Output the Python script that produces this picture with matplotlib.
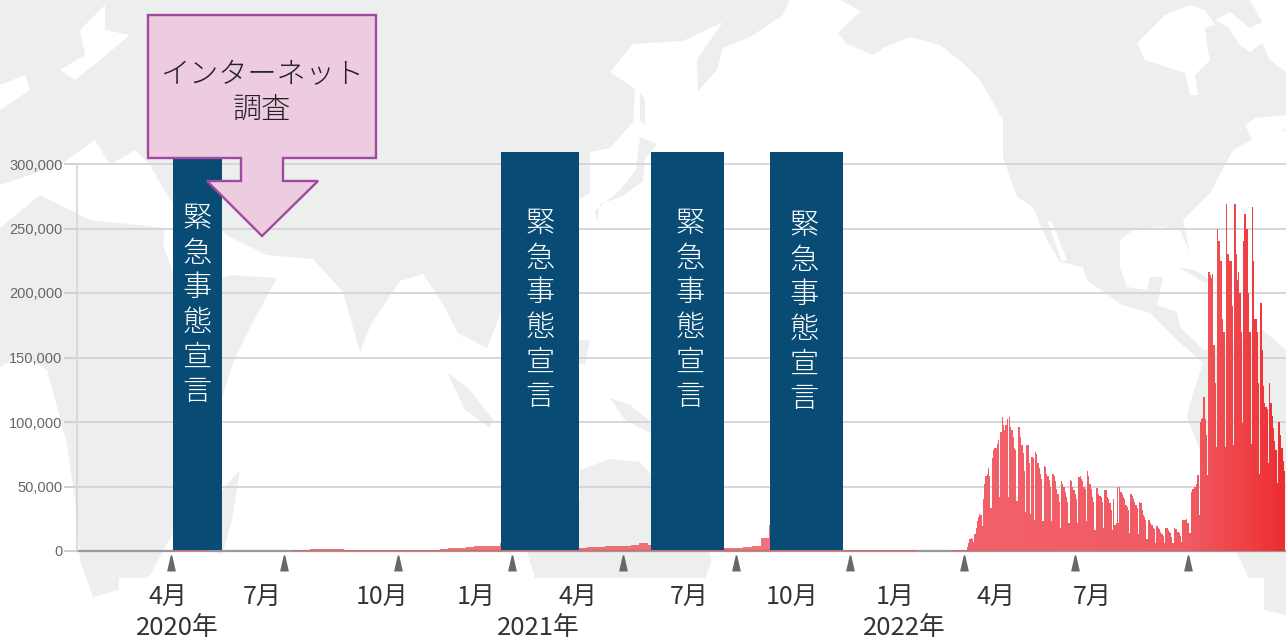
"""Daily new cases in Japan with emergency-declaration periods over a world map."""
import numpy as np
import matplotlib; matplotlib.use("Agg")
import matplotlib.pyplot as plt
from matplotlib.colors import LinearSegmentedColormap
from matplotlib.patches import Polygon, Rectangle

plt.rcParams["font.family"] = ["Noto Sans CJK JP", "DejaVu Sans"]

W, H = 1286, 641
PX_PER_DAY, PX_DAY0 = 1.2387, 171.0   # day 0 = 2020-04-01

Y_TICKS = [0, 50000, 100000, 150000, 200000, 250000, 300000]
QUARTER_DAYS = [0, 91, 183, 275, 365, 456, 548, 640, 730, 821]
EMERGENCY_START = [2, 266.4, 387.5, 483.6]
EMERGENCY_END = [41, 329.4, 446.4, 542.5]
EMERGENCY_TOP = 308500
EMERGENCY_LABEL = "緊急事態宣言"

# weekly average from day 0, thousands
LOW_WEEKS = [0.5, 0.5, 0.5, 0.4, 0.3, 0.2, 0.1, 0.1,
             0.1, 0.1, 0.1, 0.1, 0.2, 0.3, 0.5,
             0.8, 1.2, 1.4, 1.5, 1.3,
             1.0, 0.8, 0.7, 0.6, 0.6, 0.6, 0.5, 0.6, 0.7, 0.8, 1.0,
             1.5, 2.0, 2.5, 3.0, 3.5, 3.5, 4.0,
             6, 5, 3, 2, 1.5, 1.3, 1.2, 1.5,
             2, 2.5, 3, 3, 3.5, 3.5, 4, 5, 6,
             5, 4, 3, 2.5, 2, 2, 2, 2, 2.0,
             2.5, 2.5, 3, 4, 10,
             20, 22, 18, 10, 5, 3, 2, 1, 0.8,
             0.8, 0.7, 0.6, 0.5, 0.5, 0.4, 0.4, 0.4, 0.3, 0.3, 0.3, 0.3, 0.4, 0.5]

# daily values from day 642, thousands; each row is one week starting on its low day
WAVE_START = 642
WAVE_DAYS = [1, 3, 6, 9, 10, 9,
             7, 13, 18, 23, 26, 29, 28,
             19, 40, 52, 58, 60, 64, 58,
             33, 72, 78, 80, 80, 83, 86,
             42, 92, 104, 98, 94, 98, 102,
             42, 104, 96, 94, 88, 80, 78,
             39, 96, 96, 88, 82, 76, 62,
             30, 82, 82, 68, 29, 73, 72,
             24, 77, 75, 68, 64, 60, 56,
             23, 66, 65, 60, 58, 55, 50,
             23, 60, 58, 54, 48, 44, 38,
             18, 54, 52, 50, 46, 42, 38,
             22, 55, 54, 50, 47, 44, 40,
             22, 57, 58, 56, 54, 50, 48,
             23, 62, 58, 52, 48, 42, 38,
             16, 49, 49, 44, 43, 42, 38,
             18, 47, 47, 42, 40, 37, 32,
             16, 40, 20, 22, 50, 22, 50,
             46, 44, 42, 40, 36, 34, 32,
             14, 44, 43, 40, 38, 36, 33,
             13, 38, 37, 32, 28, 26, 24,
             9, 24, 24, 22, 20, 18, 17,
             6, 19, 18, 17, 15, 13, 12,
             6, 18, 18, 16, 15, 14, 11,
             6, 18, 17, 17, 15, 14, 12,
             7, 24, 24, 24, 25, 22, 14,
             14, 46, 48, 50, 50, 52, 59,
             28, 100, 102, 103, 119, 102, 90,
             59, 216, 214, 212, 215, 160, 130,
             81, 250, 240, 225, 225, 180, 170,
             81, 269, 230, 230, 225, 225, 190,
             82, 269, 230, 210, 216, 200, 170,
             99, 240, 261, 250, 250, 200, 170,
             83, 267, 225, 180, 180, 170, 130,
             60, 192, 156, 128, 115, 112, 110,
             68, 130, 115, 105, 95, 85, 78,
             53, 100, 100, 90, 80, 70, 62]

X_LABELS = ["4月", "7月", "10月", "1月", "4月", "7月", "10月", "1月", "4月", "7月"]
X_LABEL_PX = [168, 262, 382, 476, 578, 689, 792, 895, 996, 1092]
YEAR_LABELS = ["2020年", "2021年", "2022年"]
YEAR_LABEL_PX = [177, 538, 904]

GREY_LAND = "#edeeee"
NAVY = "#084c76"

# rough outlines of the map behind the chart, in image pixels
LAND = [
    [(0, 0), (1286, 0), (1286, 130), (1257, 137), (1233, 150), (1210, 193), (1183, 220), (1190, 253),
     (1180, 230), (1160, 227), (1133, 230), (1120, 240), (1120, 267), (1127, 287), (1147, 290), (1150, 277),
     (1163, 277), (1157, 305), (1177, 312), (1180, 327), (1197, 343), (1203, 350), (1203, 363), (1177, 340),
     (1150, 313), (1122, 305), (1087, 280), (1083, 267), (1060, 262), (1047, 240), (1033, 207), (1017, 197),
     (1003, 157), (1003, 120), (980, 80), (963, 63), (940, 45), (910, 37), (883, 48), (843, 76), (873, 55),
     (847, 44), (838, 33), (861, 11), (840, 0), (790, 0), (783, 15), (750, 37), (723, 48), (717, 70),
     (698, 91), (697, 59), (723, 22), (683, 41), (633, 44), (610, 72), (635, 89), (633, 122), (610, 148),
     (590, 152), (590, 193), (579, 200), (540, 300), (510, 290), (487, 348), (458, 333), (480, 385),
     (460, 337), (443, 304), (423, 274), (400, 281), (370, 326), (360, 352), (343, 292), (313, 259),
     (267, 255), (230, 237), (200, 215), (170, 200), (150, 165), (135, 150), (110, 165), (95, 140), (60, 165),
     (0, 185)],
    [(0, 228), (40, 195), (90, 220), (165, 228), (163, 245), (180, 292), (230, 275), (277, 278), (247, 333),
     (233, 363), (215, 420), (190, 480), (175, 530), (150, 575), (119, 590), (93, 597), (80, 560), (75, 500),
     (67, 444), (47, 370), (20, 355), (0, 367)],
    [(240, 470), (232, 520), (222, 555), (200, 545), (205, 510)],
    [(1203, 350), (1240, 340), (1263, 330), (1286, 350), (1286, 615), (1264, 610), (1237, 553), (1200, 450),
     (1187, 417), (1190, 403), (1203, 363)],
    [(580, 470), (610, 459), (640, 462), (665, 490), (700, 530), (712, 560), (705, 578), (535, 578), (525, 545),
     (540, 520), (580, 500)],
    [(610, 398), (630, 405), (655, 425), (650, 433), (625, 420)],
    [(447, 372), (470, 390), (493, 420), (490, 428), (465, 410)],
    [(640, 137), (657, 144), (645, 159), (643, 181), (623, 196), (600, 204), (597, 222), (595, 211), (620, 190),
     (636, 170)],
    [(640, 93), (645, 100), (645, 126), (640, 120)],
    [(1180, 268), (1195, 270), (1212, 282), (1205, 283), (1190, 274)],
    [(560, 340), (590, 340), (585, 365), (562, 360)],
]
SEAS = [
    [(1137, 43), (1165, 15), (1190, 5), (1205, 10), (1215, 25), (1205, 28), (1208, 50), (1210, 60), (1195, 75),
     (1198, 95), (1190, 95), (1185, 73), (1160, 65), (1145, 60)],
    [(1286, 72), (1270, 60), (1262, 43), (1250, 52), (1240, 45), (1228, 27), (1215, 20), (1230, 12), (1250, 28),
     (1262, 22), (1250, 0), (1286, 0)],
    [(110, 0), (95, 15), (80, 30), (85, 55), (60, 70), (75, 80), (100, 60), (130, 35), (105, 30), (105, 5)],
    [(0, 85), (25, 75), (30, 90), (0, 110)],
    [(1230, 137), (1255, 118), (1286, 115), (1286, 128), (1255, 145), (1245, 125)],
    [(1047, 220), (1052, 222), (1067, 260), (1062, 262)],
]


def day_from_px(px):
    return (px - PX_DAY0) / PX_PER_DAY


def main():
    fig = plt.figure(figsize=(W / 100, H / 100), dpi=100, facecolor="white")

    bg = fig.add_axes([0, 0, 1, 1], zorder=0)
    bg.set_xlim(0, W); bg.set_ylim(H, 0); bg.axis("off")
    for pts in LAND:
        bg.add_patch(Polygon(pts, closed=True, fc=GREY_LAND, ec="none", joinstyle="round"))
    for pts in SEAS:
        bg.add_patch(Polygon(pts, closed=True, fc="white", ec="none"))

    # main chart: left edge at px 77, y=0 at px 551, 50,000 = 64.5 px
    ax = fig.add_axes([77 / W, (H - 551) / H, (W - 77) / W, (551 - 152) / H], zorder=1)
    ax.patch.set_alpha(0)
    ax.set_xlim(day_from_px(77), day_from_px(W))
    ax.set_ylim(0, 399 / 64.5 * 50000)
    for s in ["top", "right", "bottom", "left"]:
        ax.spines[s].set_visible(False)
    ax.set_axisbelow(True)
    ax.grid(axis="y", color="#d3d4d7", lw=1.3)
    ax.set_yticks(Y_TICKS, [f"{v:,}" for v in Y_TICKS], family=["Liberation Sans", "DejaVu Sans"],
                  fontsize=10.5, color="#666666")
    ax.tick_params(axis="y", length=9.5, width=1.2, color="#c9cacd", pad=1)
    ax.set_xticks([])
    ax.plot([day_from_px(77)] * 2, [0, 300000], color="#d5d6d9", lw=1.2, clip_on=False)
    ax.axhline(0, color="#999999", lw=1.6, clip_on=False, zorder=1.5)

    low_x = np.arange(len(LOW_WEEKS)) * 7 + 3.5
    ax.bar(low_x, np.array(LOW_WEEKS) * 1000, width=7, color="#ee5a62", alpha=0.85, lw=0, zorder=2)

    wave = np.array(WAVE_DAYS) * 1000.0
    wave_x = WAVE_START + np.arange(len(wave))
    shade = LinearSegmentedColormap.from_list("wave", [(0, "#f1606a"), (0.7, "#f05a62"), (1, "#ec2e30")])
    ax.bar(wave_x, wave, width=1.0, color=shade((wave_x - WAVE_START) / (wave_x[-1] - WAVE_START)), lw=0, zorder=2)

    # emergency declaration periods
    for a, b in zip(EMERGENCY_START, EMERGENCY_END):
        ax.bar((a + b) / 2, EMERGENCY_TOP, width=b - a, bottom=1000, color=NAVY, lw=0, zorder=3, clip_on=False)

    # quarter markers under the axis
    tri = [(-0.55, -1), (0.55, -1), (0.1, 1), (-0.1, 1)]
    ax.plot(QUARTER_DAYS, [-9300] * len(QUARTER_DAYS), ls="none", marker=tri, ms=11.5,
            color="#686868", mew=0, clip_on=False)

    top = fig.add_axes([0, 0, 1, 1], zorder=2)
    top.set_xlim(0, W); top.set_ylim(H, 0); top.axis("off"); top.patch.set_alpha(0)
    top.add_patch(Rectangle((119, 578), 1145, 63, fc="white", ec="none"))

    for lab, px in zip(X_LABELS, X_LABEL_PX):
        top.text(px, 597, lab, ha="center", va="center", fontsize=18, color="#333333")
    for lab, px in zip(YEAR_LABELS, YEAR_LABEL_PX):
        top.text(px, 628, lab, ha="center", va="center", fontsize=18.5, color="#333333")

    callout = [(148, 15), (376, 15), (376, 158), (283, 158), (283, 181), (318, 181), (262, 236), (207, 181),
               (241, 181), (241, 158), (148, 158)]
    top.add_patch(Polygon(callout, closed=True, fc="#edcbe0", ec="#a0499e", lw=1.7, joinstyle="miter"))
    top.text(262, 75, "インターネット", ha="center", va="center", fontsize=21, color="#222222", fontweight="light")
    top.text(262, 110, "調査", ha="center", va="center", fontsize=21, color="#222222", fontweight="light")

    for cx, y0 in [(197, 219), (540, 224), (690, 224), (804, 226)]:
        for i, ch in enumerate(EMERGENCY_LABEL):
            top.text(cx, y0 + i * 34.6, ch, ha="center", va="center", fontsize=21, color="white", fontweight="light")

    fig.savefig("out.png", dpi=100)


if __name__ == "__main__":
    main()
